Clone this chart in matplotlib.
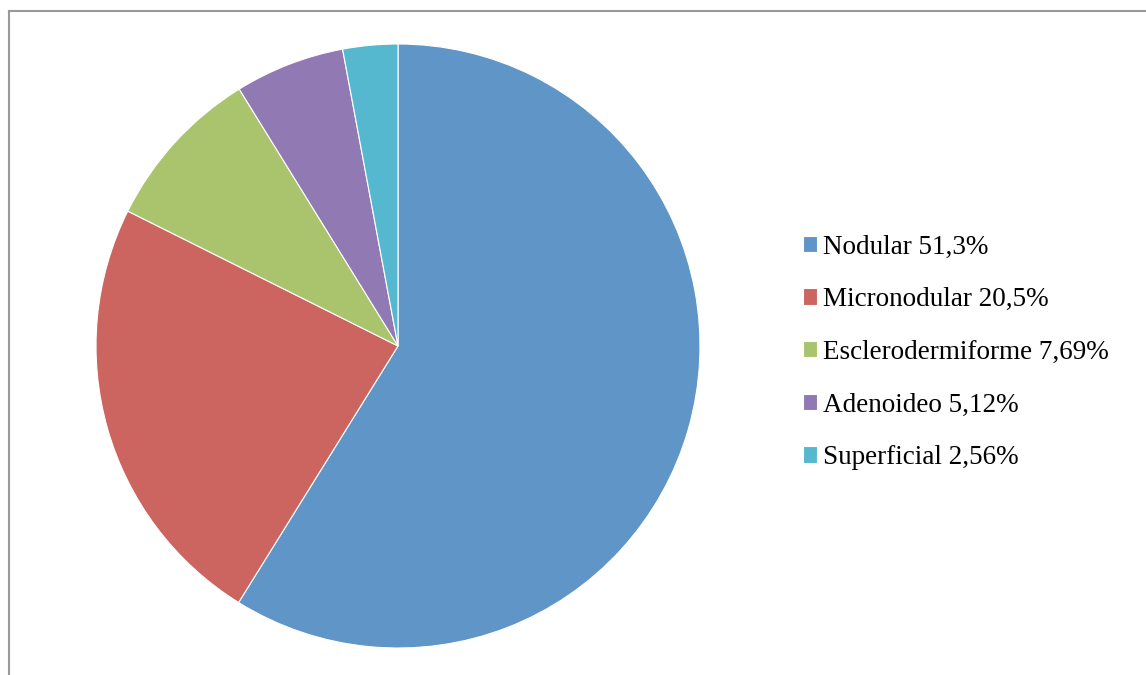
import matplotlib.pyplot as plt
from matplotlib.lines import Line2D

plt.rcParams['font.family'] = ['Liberation Serif', 'DejaVu Serif']

# Subtipos histológicos
labels = ['Nodular', 'Micronodular', 'Esclerodermiforme', 'Adenoideo', 'Superficial']
pct_text = ['51,3%', '20,5%', '7,69%', '5,12%', '2,56%']
values = [51.3, 20.5, 7.69, 5.12, 2.56]
colors = ['#5F96C7', '#CC655F', '#A9C46C', '#9179B3', '#56B8CF']

W, H = 1146, 675
fig = plt.figure(figsize=(W / 100, H / 100), dpi=100)

# Ejes del pastel: centro (398, 346) px, radio 302 px
cx, cy, r = 398, 346, 302
ax = fig.add_axes([(cx - r) / W, (H - cy - r) / H, 2 * r / W, 2 * r / H])
wedges, _ = ax.pie(values, colors=colors, startangle=90, counterclock=False,
                   radius=1.0, wedgeprops=dict(edgecolor='white', linewidth=0.8))
ax.set_xlim(-1, 1)
ax.set_ylim(-1, 1)
ax.set_aspect('equal')
ax.axis('off')

leg_labels = [f'{l} {p}' for l, p in zip(labels, pct_text)]
fig.legend(wedges, leg_labels, loc='upper left',
           bbox_to_anchor=(789 / W, 1 - 221 / H), frameon=False,
           fontsize=19.5, handlelength=0.55, handleheight=0.55,
           handletextpad=0.22, labelspacing=1.02, borderpad=0)

# Marco (parcial) del área del gráfico
lc = '#999999'
fig.add_artist(Line2D([8.5 / W, 1], [1 - 10.5 / H, 1 - 10.5 / H],
                      transform=fig.transFigure, color=lc, lw=1.5))
fig.add_artist(Line2D([8.5 / W, 8.5 / W], [0, 1 - 10.5 / H],
                      transform=fig.transFigure, color=lc, lw=1.5))

fig.savefig('out.png', dpi=100, facecolor='white')
